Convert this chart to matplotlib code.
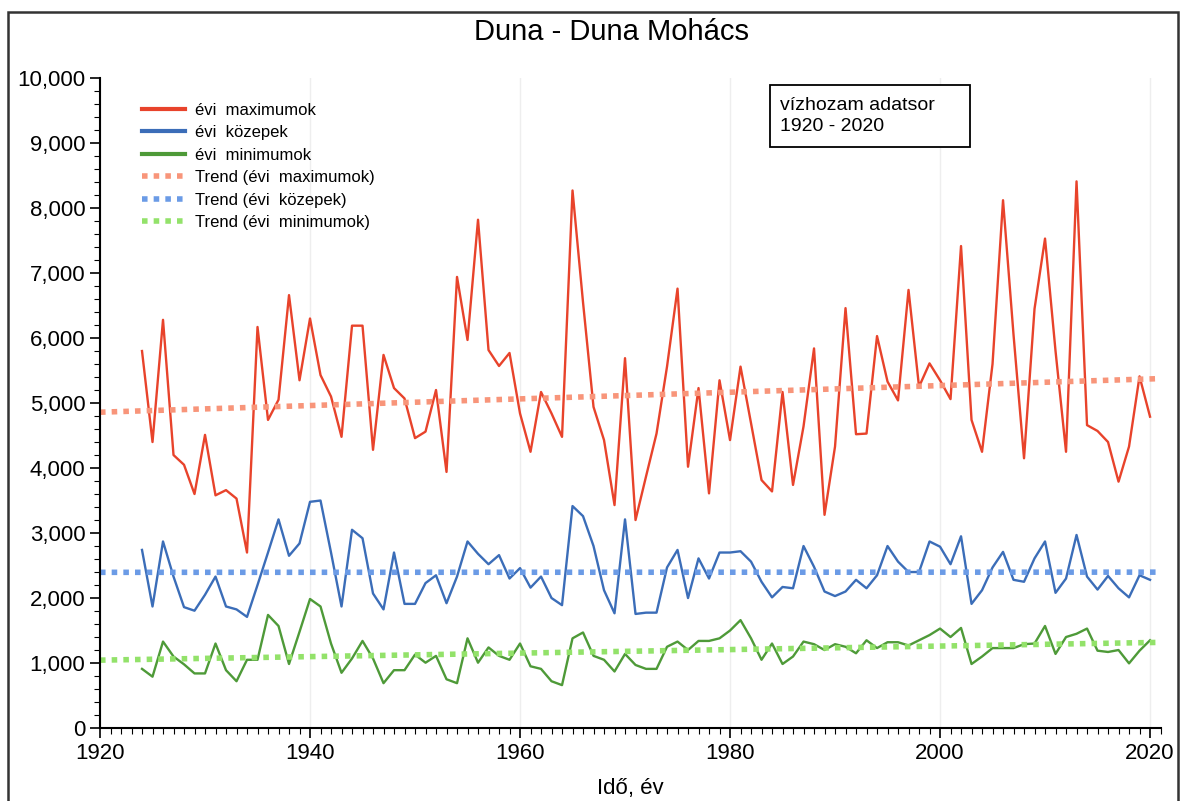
import numpy as np
import matplotlib
matplotlib.use("Agg")
import matplotlib.pyplot as plt
from matplotlib.ticker import MultipleLocator, FuncFormatter
from matplotlib.patches import Rectangle

plt.rcParams['font.family'] = ['Liberation Sans', 'DejaVu Sans']

# evek 1924 - 2020
years = list(range(1924, 2021))

# evi maximumok (m3/s)
evi_max = [5800, 4400, 6280, 4200, 4050, 3600, 4510, 3580, 3660, 3530,
           2700, 6170, 4740, 5050, 6660, 5350, 6300, 5430, 5100, 4480,
           6190, 6190, 4280, 5740, 5230, 5070, 4460, 4560, 5200, 3940,
           6940, 5970, 7820, 5815, 5570, 5770, 4840, 4250, 5170, 4840,
           4480, 8270, 6550, 4940, 4430, 3430, 5690, 3200, 3870, 4530,
           5560, 6760, 4020, 5230, 3610, 5350, 4430, 5560, 4690, 3815,
           3640, 5170, 3740, 4640, 5840, 3280, 4330, 6460, 4520, 4530,
           6030, 5330, 5040, 6740, 5250, 5610, 5350, 5060, 7415, 4740,
           4250, 5600, 8120, 6050, 4150, 6450, 7530, 5800, 4250, 8410,
           4660, 4570, 4400, 3790, 4330, 5410, 4790]

# evi kozepek
evi_kozep = [2740, 1870, 2870, 2330, 1860, 1805, 2050, 2330, 1870, 1825,
             1710, 2200, 2700, 3210, 2650, 2840, 3480, 3500, 2700, 1870,
             3050, 2920, 2070, 1825, 2700, 1910, 1910, 2230, 2350, 1920,
             2330, 2870, 2680, 2520, 2660, 2300, 2460, 2160, 2330, 2000,
             1890, 3415, 3260, 2800, 2120, 1765, 3210, 1755, 1775, 1775,
             2470, 2740, 2000, 2610, 2300, 2700, 2700, 2720, 2560, 2250,
             2010, 2170, 2150, 2800, 2480, 2100, 2030, 2100, 2280, 2150,
             2350, 2800, 2560, 2400, 2400, 2870, 2790, 2520, 2950, 1910,
             2120, 2470, 2710, 2280, 2250, 2610, 2870, 2080, 2300, 2970,
             2330, 2130, 2340, 2150, 2010, 2350, 2280]

# evi minimumok
evi_min = [910, 790, 1330, 1100, 980, 840, 840, 1300, 890, 720,
           1050, 1050, 1740, 1570, 985, 1480, 1985, 1870, 1300, 850,
           1070, 1340, 1070, 690, 890, 890, 1130, 1005, 1110, 750,
           690, 1380, 1005, 1240, 1110, 1050, 1300, 950, 910, 720,
           660, 1380, 1470, 1110, 1050, 870, 1140, 970, 910, 910,
           1250, 1330, 1200, 1340, 1340, 1380, 1500, 1660, 1380, 1050,
           1300, 985, 1100, 1330, 1290, 1200, 1290, 1250, 1150, 1350,
           1230, 1320, 1320, 1270, 1350, 1430, 1530, 1400, 1540, 985,
           1100, 1230, 1230, 1230, 1290, 1300, 1570, 1140, 1400, 1450,
           1530, 1190, 1170, 1200, 995, 1190, 1350]

x = np.array(years)
trend_x = np.array([1920, 2021.5])

fig = plt.figure(figsize=(11.92, 8.01), dpi=100)
ax = fig.add_axes([0.0839, 0.0911, 0.8897, 0.8115])

# vonalak
ax.plot(x, evi_max, color="#E8432B", lw=1.7, label="évi  maximumok")
ax.plot(x, evi_kozep, color="#3B6DB8", lw=1.7, label="évi  közepek")
ax.plot(x, evi_min, color="#4E9A38", lw=1.7, label="évi  minimumok")

# linearis trendek
for vals, col, lab in [(evi_max, "#F8957A", "Trend (évi  maximumok)"),
                       (evi_kozep, "#6B9BE6", "Trend (évi  közepek)"),
                       (evi_min, "#93E26A", "Trend (évi  minimumok)")]:
    p = np.polyfit(x, vals, 1)
    ax.plot(trend_x, np.polyval(p, trend_x), color=col, lw=4,
            linestyle=(0, (1, 1.1)), label=lab)

ax.set_xlim(1920, 2021)
ax.set_ylim(0, 10000)
ax.xaxis.set_major_locator(MultipleLocator(20))
ax.xaxis.set_minor_locator(MultipleLocator(1))
ax.yaxis.set_major_locator(MultipleLocator(1000))
ax.yaxis.set_minor_locator(MultipleLocator(200))
ax.yaxis.set_major_formatter(FuncFormatter(lambda v, p: f"{int(v):,}"))
ax.tick_params(axis="both", which="major", labelsize=16, length=7, width=1.2)
ax.tick_params(axis="both", which="minor", length=4, width=0.8)
ax.spines["top"].set_visible(False)
ax.spines["right"].set_visible(False)
ax.spines["left"].set_linewidth(1.5)
ax.spines["bottom"].set_linewidth(1.5)
ax.grid(axis="x", which="major", color="#eeeeee", lw=1)
ax.set_axisbelow(True)

ax.set_xlabel("Idő, év", fontsize=16, labelpad=10)
fig.text(0.513, 0.96, "Duna - Duna Mohács", ha="center", va="center", fontsize=21)

leg = ax.legend(loc="upper left", bbox_to_anchor=(0.025, 0.985), frameon=False,
                fontsize=12, handlelength=2.6, labelspacing=0.45, handletextpad=0.6)
for h in leg.get_lines()[:3]:
    h.set_linewidth(3)

# szovegdoboz
fig.patches.append(Rectangle((770 / 1192, 1 - 147 / 801), 200 / 1192, 62 / 801,
                             transform=fig.transFigure, fill=True, facecolor="white",
                             edgecolor="black", lw=1.3, zorder=5))
fig.text(780 / 1192, 1 - 116 / 801, "vízhozam adatsor\n1920 - 2020", fontsize=14,
         va="center", ha="left", linespacing=1.25, zorder=6)

# keret
fig.patches.append(Rectangle((8 / 1192, -0.01), 1170 / 1192, 1.0 - 12 / 801 + 0.01,
                             transform=fig.transFigure, fill=False,
                             edgecolor="#333333", lw=1.8))

fig.savefig("out.png", dpi=100)
